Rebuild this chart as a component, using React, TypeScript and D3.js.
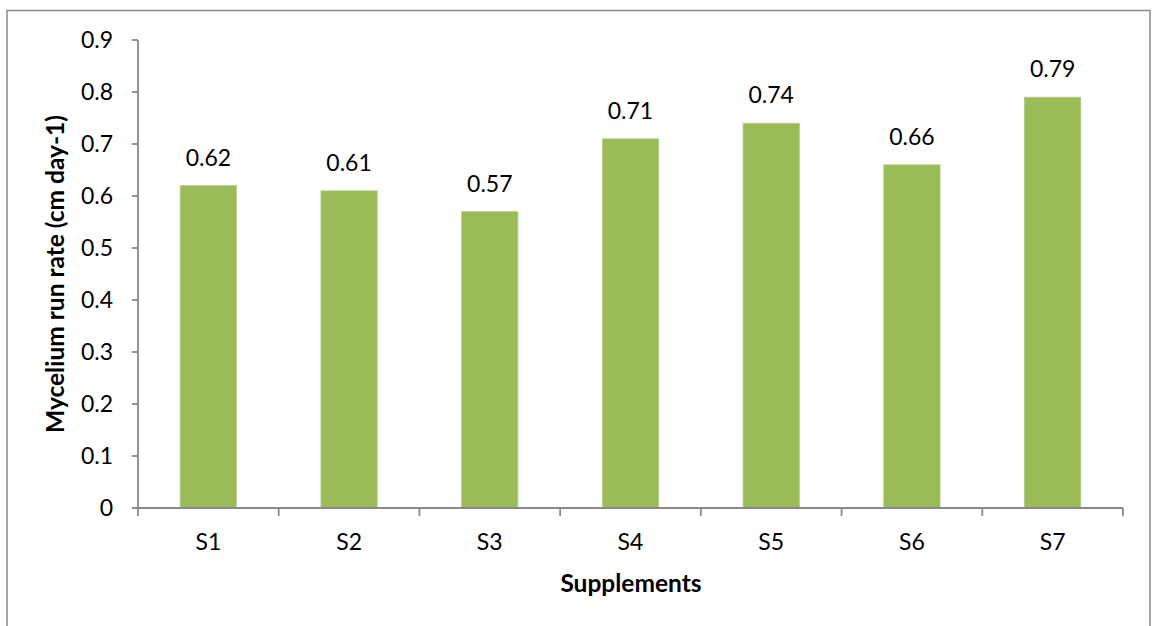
import React from "react";
import * as d3 from "d3";

const categories = ["S1", "S2", "S3", "S4", "S5", "S6", "S7"];
const values = [0.62, 0.61, 0.57, 0.71, 0.74, 0.66, 0.79];
const yTicks = [0, 0.1, 0.2, 0.3, 0.4, 0.5, 0.6, 0.7, 0.8, 0.9];
const xTitle = "Supplements";
const yTitle = "Mycelium run rate (cm day-1)";

const W = 1152;
const H = 626;
const plot = { left: 138, right: 1123, top: 40, bottom: 508 };
const FONT = "Lato, 'Open Sans', sans-serif";
const AXIS = "#898989";

export default function App() {
  const x = d3
    .scaleBand<string>()
    .domain(categories)
    .range([plot.left, plot.right])
    .paddingInner(0.6)
    .paddingOuter(0.3);
  const step = (plot.right - plot.left) / categories.length;
  const y = d3.scaleLinear().domain([0, 0.9]).range([plot.bottom, plot.top]);
  const boundaries = d3.range(categories.length + 1).map((i) => plot.left + i * step);

  return (
    <svg
      width={W}
      height={H}
      style={{ position: "absolute", left: 0, top: 0, background: "#fff" }}
      fontFamily={FONT}
    >
      <rect x={7} y={10.5} width={1143} height={640} fill="#fff" stroke="#8a8a8a" strokeWidth={1.5} />

      {/* bars */}
      {values.map((v, i) => (
        <rect
          key={categories[i]}
          x={x(categories[i])!}
          y={y(v)}
          width={x.bandwidth()}
          height={y(0) - y(v)}
          fill="#9BBB59"
          stroke="#b4cd86"
          strokeWidth={0.8}
        />
      ))}

      {/* value labels */}
      {values.map((v, i) => (
        <text
          key={"l" + categories[i]}
          x={x(categories[i])! + x.bandwidth() / 2}
          y={y(v) - 20}
          textAnchor="middle"
          fontSize={23}
          fill="#000"
        >
          {d3.format(".2f")(v)}
        </text>
      ))}

      {/* y axis */}
      <line x1={plot.left} x2={plot.left} y1={plot.top} y2={plot.bottom} stroke={AXIS} strokeWidth={1.8} />
      {yTicks.map((t) => (
        <g key={"y" + t}>
          <line x1={plot.left - 6} x2={plot.left} y1={y(t)} y2={y(t)} stroke={AXIS} strokeWidth={1.8} />
          <text x={113} y={y(t) + 8} textAnchor="end" fontSize={23} fill="#000">
            {t === 0 ? "0" : d3.format(".1f")(t)}
          </text>
        </g>
      ))}

      {/* x axis */}
      <line x1={plot.left - 6} x2={plot.right} y1={plot.bottom} y2={plot.bottom} stroke={AXIS} strokeWidth={1.8} />
      {boundaries.map((b, i) => (
        <line key={"xt" + i} x1={b} x2={b} y1={plot.bottom} y2={plot.bottom + 8} stroke={AXIS} strokeWidth={1.8} />
      ))}
      {categories.map((c) => (
        <text
          key={"x" + c}
          x={x(c)! + x.bandwidth() / 2}
          y={550}
          textAnchor="middle"
          fontSize={23}
          fill="#000"
        >
          {c}
        </text>
      ))}

      {/* axis titles */}
      <text x={631} y={592} textAnchor="middle" fontSize={24.5} fontWeight="bold" fill="#000">
        {xTitle}
      </text>
      <text
        transform={`translate(64, ${(plot.top + plot.bottom) / 2}) rotate(-90)`}
        textAnchor="middle"
        fontSize={24.5}
        fontWeight="bold"
        fill="#000"
      >
        {yTitle}
      </text>
    </svg>
  );
}
